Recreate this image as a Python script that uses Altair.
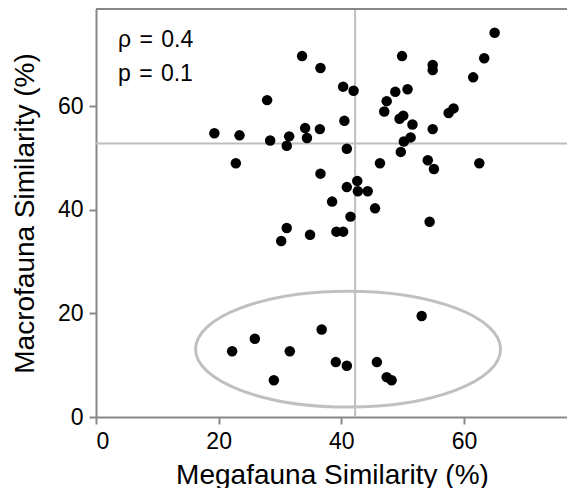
import altair as alt
import pandas as pd

# Megafauna similarity (%) and macrofauna similarity (%) for each site pair
mega = [33.6, 36.6, 27.9, 40.3, 42.0, 40.5, 19.3, 23.4, 34.1, 36.5,
        34.4, 31.5, 28.4, 31.1, 40.9, 65.0, 63.3, 49.9, 54.9, 54.9,
        61.5, 50.8, 48.8, 47.4, 47.0, 57.5, 58.3, 49.5, 50.1, 51.6,
        54.9, 51.3, 50.2, 49.7, 46.3, 54.1, 55.1, 62.5, 22.8, 36.6,
        40.9, 42.6, 42.7, 44.3, 38.5, 45.5, 41.5, 54.4, 31.1, 30.2,
        34.9, 39.2, 40.3,
        22.2, 25.9, 31.6, 29.0, 36.8, 39.1, 40.9, 53.1, 45.8, 47.4, 48.2]
macro = [69.7, 67.4, 61.2, 63.8, 63.0, 57.2, 54.8, 54.4, 55.8, 55.6,
         53.9, 54.2, 53.4, 52.4, 51.8, 74.2, 69.3, 69.7, 68.0, 67.0,
         65.6, 63.3, 62.8, 61.0, 59.0, 58.7, 59.6, 57.6, 58.2, 56.5,
         55.6, 54.0, 53.2, 51.2, 49.0, 49.6, 47.9, 49.0, 49.0, 47.0,
         44.4, 45.6, 43.6, 43.6, 41.6, 40.3, 38.7, 37.7, 36.5, 34.0,
         35.2, 35.8, 35.8,
         12.7, 15.1, 12.7, 7.1, 16.9, 10.6, 9.9, 19.5, 10.6, 7.7, 7.1]

median_mega = [42.25]
median_macro = [52.8]
x_ticks = [0, 20, 40, 60]
y_ticks = [0, 20, 40, 60]
stat_labels = ["ρ \u200a= \u200a0.4", "p \u200a= \u200a0.1"]
stat_x = [3.6, 3.6]
stat_y = [71.5, 64.8]
outlier_center_x = [41.1]
outlier_center_y = [13.1]

FONT = "Liberation Sans"
X_DOM = [0, 76.8]
Y_DOM = [0, 78.8]

pts = pd.DataFrame({"mega": mega, "macro": macro})
vdf = pd.DataFrame({"v": median_mega})
hdf = pd.DataFrame({"h": median_macro})
tdf = pd.DataFrame({"label": stat_labels, "x": stat_x, "y": stat_y})
edf = pd.DataFrame({"x": outlier_center_x, "y": outlier_center_y})

xscale = alt.Scale(domain=X_DOM, nice=False, zero=False)
yscale = alt.Scale(domain=Y_DOM, nice=False, zero=False)

xaxis = alt.Axis(
    title="Megafauna Similarity (%)", values=x_ticks, grid=False,
    titleX=236, titleY=66, titleAlign="center", titleBaseline="alphabetic",
)
yaxis = alt.Axis(
    title="Macrofauna Similarity (%)", values=y_ticks, grid=False,
    titleX=-63, titleY=204, titleAngle=270, titleAlign="center",
    titleBaseline="alphabetic",
)

vline = alt.Chart(vdf).mark_rule(color="#bebebe", strokeWidth=2).encode(
    x=alt.X("v:Q", scale=xscale, axis=xaxis)
)
hline = alt.Chart(hdf).mark_rule(color="#bebebe", strokeWidth=2).encode(
    y=alt.Y("h:Q", scale=yscale, axis=yaxis)
)

ellipse_path = ("M -1 0 C -1 -0.21 -0.552 -0.38 0 -0.38 "
                "C 0.552 -0.38 1 -0.21 1 0 "
                "C 1 0.21 0.552 0.38 0 0.38 "
                "C -0.552 0.38 -1 0.21 -1 0 Z")
ellipse = alt.Chart(edf).mark_point(
    shape=ellipse_path, size=93025, filled=False, stroke="#c0c0c0",
    strokeWidth=3, opacity=1,
).encode(
    x=alt.X("x:Q", scale=xscale, axis=xaxis),
    y=alt.Y("y:Q", scale=yscale, axis=yaxis),
)

points = alt.Chart(pts).mark_circle(size=110, color="black", opacity=1).encode(
    x=alt.X("mega:Q", scale=xscale, axis=xaxis),
    y=alt.Y("macro:Q", scale=yscale, axis=yaxis),
)

text = alt.Chart(tdf).mark_text(
    align="left", baseline="alphabetic", font=FONT, fontSize=23, color="black"
).encode(
    x=alt.X("x:Q", scale=xscale, axis=xaxis),
    y=alt.Y("y:Q", scale=yscale, axis=yaxis),
    text="label:N",
)

top_border = alt.Chart(vdf).mark_rule(color="#888888", strokeWidth=2).encode(
    x=alt.value(0), x2=alt.value(471), y=alt.value(0)
)

chart = alt.layer(vline, hline, ellipse, points, text, top_border).properties(
    width=471, height=408,
    autosize=alt.AutoSizeParams(type="none"),
    padding={"left": 96, "top": 9, "right": 0, "bottom": 71},
    background="white",
).configure_view(stroke=None).configure_axis(
    domainColor="#888888", domainWidth=2, tickColor="#888888", tickWidth=2,
    tickSize=7, labelFont=FONT, labelFontSize=23, labelColor="black",
    titleFont=FONT, titleFontSize=28, titleColor="black", titleFontWeight="normal",
).configure_axisX(labelPadding=6).configure_axisY(labelPadding=6)

chart.save("out.html", embed_options={"renderer": "svg", "actions": False})
